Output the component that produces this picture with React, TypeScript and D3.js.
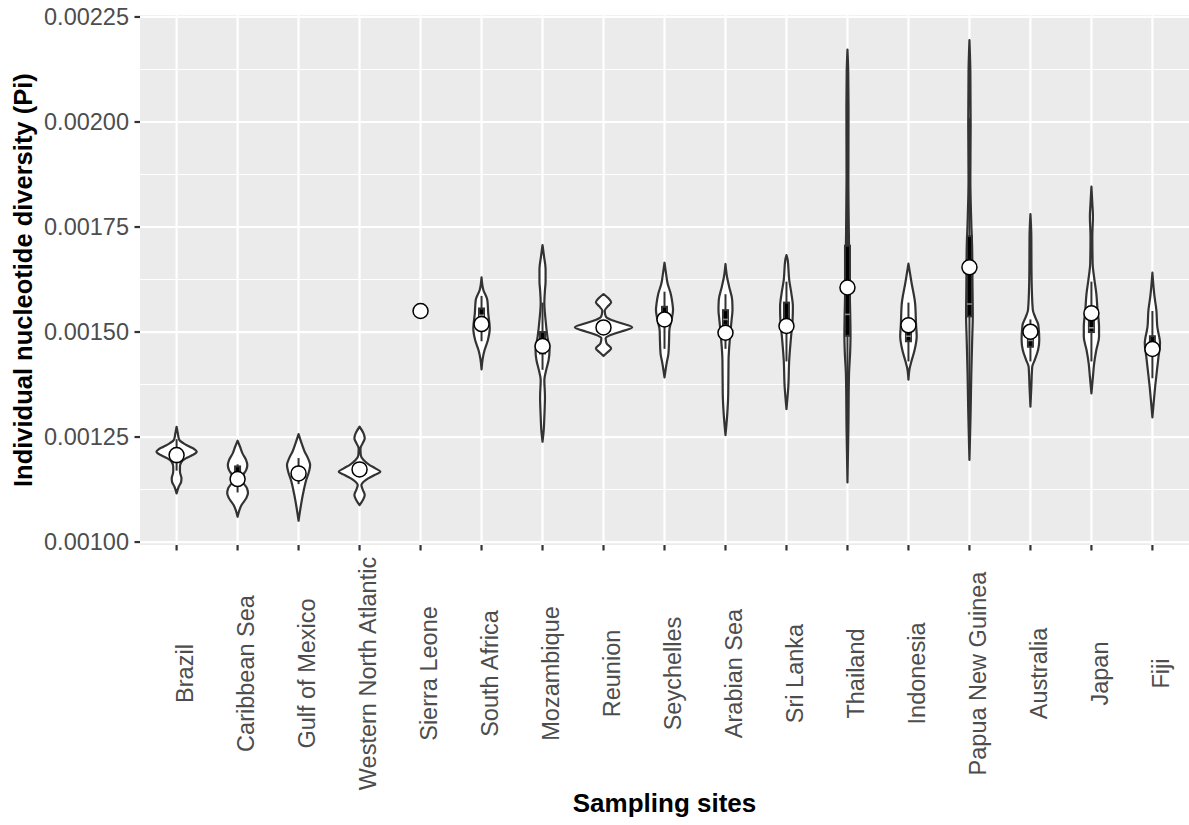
import React from "react";
import * as d3 from "d3";

// Sampling sites in plotting order
const sites = [
  "Brazil", "Caribbean Sea", "Gulf of Mexico", "Western North Atlantic", "Sierra Leone",
  "South Africa", "Mozambique", "Reunion", "Seychelles", "Arabian Sea", "Sri Lanka",
  "Thailand", "Indonesia", "Papua New Guinea", "Australia", "Japan", "Fiji",
];

// Mean individual nucleotide diversity per site (white points)
const meanPi = [
  0.001207, 0.00115, 0.0011635, 0.001173, 0.00155, 0.001519, 0.0014667, 0.001511,
  0.00153, 0.0014983, 0.0015143, 0.001606, 0.001516, 0.001654, 0.0015008, 0.0015445, 0.0014595,
];

// Inner boxplot statistics per site (NaN = single sample, no box)
const boxLower = [0.00119, 0.00114, 0.00115, 0.001165, NaN, 0.001529, 0.001449, 0.001505, 0.001533, 0.001517, 0.0015, 0.001491, 0.001478, 0.0015371, 0.001465, 0.0015, 0.00145];
const boxMedian = [0.001212, 0.00115, 0.00116, 0.00117, NaN, 0.00154, 0.00148, 0.00151, 0.001545, 0.00153, 0.00153, 0.001542, 0.00149, 0.0015667, 0.00148, 0.00151, 0.00146];
const boxUpper = [0.001222, 0.00118, 0.001175, 0.00118, NaN, 0.001556, 0.0015, 0.001515, 0.00156, 0.001552, 0.00157, 0.0017055, 0.00152, 0.0017281, 0.00149, 0.00155, 0.00149];
const whiskerLow = [0.00117, 0.001118, 0.001138, 0.00116, NaN, 0.001478, 0.00141, 0.0015, 0.00146, 0.00146, 0.00143, 0.00122, 0.00143, 0.00125, 0.00143, 0.00143, 0.00139];
const whiskerHigh = [0.001245, 0.001185, 0.0012, 0.001185, NaN, 0.001586, 0.00157, 0.00152, 0.001596, 0.00159, 0.00162, 0.00203, 0.00157, 0.00201, 0.00153, 0.00162, 0.00155];

// Violin outlines: [Pi value, relative density] from top to bottom
const violinBrazil = [[0.0012745, 0], [0.0012588, 0.04], [0.0012429, 0.09], [0.001235, 0.23], [0.001227, 0.43], [0.0012207, 0.59], [0.001215, 0.66], [0.0012071, 0.52], [0.0011993, 0.3], [0.001191, 0.16], [0.001179, 0.11], [0.0011674, 0.11], [0.0011517, 0.16], [0.0011436, 0.15], [0.0011317, 0.07], [0.001116, 0]];
const violinCaribbean = [[0.0012412, 0], [0.0012269, 0.08], [0.0012111, 0.16], [0.0011952, 0.28], [0.0011833, 0.32], [0.0011714, 0.28], [0.0011595, 0.18], [0.00115, 0.15], [0.0011397, 0.2], [0.0011278, 0.31], [0.001116, 0.34], [0.001104, 0.28], [0.001088, 0.13], [0.0010762, 0.06], [0.0010602, 0]];
const violinGulf = [[0.0012571, 0], [0.001235, 0.1], [0.001215, 0.2], [0.0011993, 0.31], [0.0011833, 0.38], [0.0011674, 0.34], [0.0011476, 0.25], [0.001116, 0.15], [0.001084, 0.07], [0.0010507, 0]];
const violinWNA = [[0.0012745, 0], [0.0012588, 0.13], [0.001247, 0.17], [0.001235, 0.1], [0.001223, 0.03], [0.0012071, 0.04], [0.0011952, 0.13], [0.0011833, 0.33], [0.0011754, 0.52], [0.0011674, 0.68], [0.0011595, 0.49], [0.0011476, 0.2], [0.0011357, 0.06], [0.0011238, 0.11], [0.0011119, 0.17], [0.0011, 0.11], [0.001088, 0]];
const violinSierraLeone: number[][] = [];
const violinSouthAfrica = [[0.0016302, 0], [0.0016, 0.06], [0.0015762, 0.19], [0.0015445, 0.22], [0.0015088, 0.27], [0.001481, 0.21], [0.0014571, 0.1], [0.0014374, 0.04], [0.0014112, 0]];
const violinMozambique = [[0.001707, 0], [0.00168, 0.05], [0.00165, 0.1], [0.00162, 0.1], [0.0016, 0.08], [0.0015683, 0.06], [0.0015286, 0.1], [0.0014888, 0.16], [0.0014571, 0.23], [0.0014333, 0.2], [0.0014095, 0.12], [0.0013857, 0.06], [0.0013459, 0.08], [0.0012983, 0.06], [0.0012667, 0.04], [0.0012388, 0]];
const violinReunion = [[0.0015905, 0], [0.0015802, 0.16], [0.0015707, 0.25], [0.0015603, 0.13], [0.0015507, 0.04], [0.0015364, 0.08], [0.0015286, 0.26], [0.0015207, 0.59], [0.0015112, 0.94], [0.0015008, 0.56], [0.0014929, 0.23], [0.001485, 0.07], [0.0014731, 0.1], [0.0014612, 0.25], [0.0014517, 0.13], [0.0014429, 0]];
const violinSeychelles = [[0.001665, 0], [0.0016398, 0.05], [0.001616, 0.1], [0.0015921, 0.2], [0.0015683, 0.26], [0.0015524, 0.28], [0.0015286, 0.23], [0.0015048, 0.16], [0.001481, 0.15], [0.0014493, 0.13], [0.0014255, 0.07], [0.0013921, 0]];
const violinArabianSea = [[0.001662, 0], [0.0016317, 0.05], [0.0016079, 0.12], [0.0015762, 0.22], [0.0015524, 0.23], [0.0015286, 0.2], [0.0014888, 0.15], [0.0014333, 0.1], [0.001354, 0.09], [0.0013064, 0.06], [0.0012548, 0]];
const violinSriLanka = [[0.001683, 0], [0.0016714, 0.04], [0.0016238, 0.09], [0.0015921, 0.16], [0.0015603, 0.21], [0.0015286, 0.2], [0.0014888, 0.15], [0.0014333, 0.09], [0.0013698, 0.06], [0.0013167, 0]];
const violinThailand = [[0.0021724, 0], [0.002119, 0.025], [0.0020338, 0.035], [0.0018643, 0.03], [0.0017112, 0.05], [0.0016095, 0.07], [0.0014905, 0.1], [0.0014564, 0.09], [0.0013969, 0.05], [0.0012695, 0.03], [0.0011421, 0]];
const violinIndonesia = [[0.0016629, 0], [0.0016179, 0.1], [0.0015669, 0.22], [0.001516, 0.25], [0.0014905, 0.27], [0.0014564, 0.2], [0.001431, 0.1], [0.0014138, 0.04], [0.0013867, 0]];
const violinPNG = [[0.0021952, 0], [0.0021188, 0.03], [0.0019914, 0.04], [0.001864, 0.03], [0.0017621, 0.06], [0.0016943, 0.09], [0.0016093, 0.1], [0.0015412, 0.11], [0.0014819, 0.09], [0.0013969, 0.06], [0.0013119, 0.04], [0.0011955, 0]];
const violinAustralia = [[0.001781, 0], [0.0017269, 0.03], [0.0016476, 0.035], [0.0015921, 0.05], [0.0015524, 0.08], [0.0015364, 0.15], [0.0015167, 0.26], [0.001481, 0.29], [0.0014571, 0.25], [0.0014333, 0.14], [0.0014174, 0.06], [0.0013698, 0.03], [0.0013222, 0]];
const violinJapan = [[0.001846, 0], [0.0018064, 0.03], [0.0017745, 0.05], [0.0017269, 0.03], [0.0016636, 0.04], [0.0016238, 0.1], [0.0015921, 0.16], [0.0015524, 0.2], [0.0015126, 0.25], [0.0014888, 0.25], [0.0014571, 0.16], [0.0014255, 0.09], [0.0013936, 0.05], [0.001354, 0]];
const violinFiji = [[0.0016412, 0], [0.0015841, 0.07], [0.0015524, 0.13], [0.0015126, 0.16], [0.0014731, 0.25], [0.0014412, 0.2], [0.0014095, 0.15], [0.0013698, 0.09], [0.0013302, 0.04], [0.0012969, 0]];

const violins = [
  violinBrazil, violinCaribbean, violinGulf, violinWNA, violinSierraLeone, violinSouthAfrica,
  violinMozambique, violinReunion, violinSeychelles, violinArabianSea, violinSriLanka,
  violinThailand, violinIndonesia, violinPNG, violinAustralia, violinJapan, violinFiji,
];

const yMajorTicks = [0.001, 0.00125, 0.0015, 0.00175, 0.002, 0.00225];
const yMinorTicks = [0.001125, 0.001375, 0.001625, 0.001875, 0.002125];

const W = 1189;
const H = 825;
const PANEL_LEFT = 140;
const PANEL_RIGHT = 1189;
const PANEL_TOP = 15.3;
const PANEL_BOTTOM = 545;
const Y_LIMITS = [0.000993, 0.002254];

const FONT = "'Liberation Sans', Arial, Helvetica, sans-serif";
const INK = "#333333";
const AXIS_TEXT = 23.5;

export default function App() {
  const x = d3.scalePoint<string>().domain(sites).range([PANEL_LEFT, PANEL_RIGHT]).padding(0.6);
  const y = d3.scaleLinear().domain(Y_LIMITS).range([PANEL_BOTTOM, PANEL_TOP]);
  const halfWidth = d3.scaleLinear().domain([0, 1]).range([0, x.step() / 2]);
  const fmt = d3.format(".5f");

  const panelMidY = (PANEL_TOP + PANEL_BOTTOM) / 2;
  const panelMidX = (PANEL_LEFT + PANEL_RIGHT) / 2;

  return (
    <svg
      width={W}
      height={H}
      viewBox={`0 0 ${W} ${H}`}
      style={{ position: "absolute", left: 0, top: 0, background: "#ffffff" }}
      fontFamily={FONT}
    >
      <rect x={0} y={0} width={W} height={H} fill="#ffffff" />
      {/* panel background */}
      <rect
        x={PANEL_LEFT}
        y={PANEL_TOP}
        width={PANEL_RIGHT - PANEL_LEFT}
        height={PANEL_BOTTOM - PANEL_TOP}
        fill="#EBEBEB"
      />
      {/* grid */}
      {yMinorTicks.map((t) => (
        <line key={"mn" + t} x1={PANEL_LEFT} x2={PANEL_RIGHT} y1={y(t)} y2={y(t)} stroke="#ffffff" strokeWidth={1.1} />
      ))}
      {yMajorTicks.map((t) => (
        <line key={"mj" + t} x1={PANEL_LEFT} x2={PANEL_RIGHT} y1={y(t)} y2={y(t)} stroke="#ffffff" strokeWidth={2.2} />
      ))}
      {sites.map((s) => (
        <line key={"vg" + s} x1={x(s)} x2={x(s)} y1={PANEL_TOP} y2={PANEL_BOTTOM} stroke="#ffffff" strokeWidth={2.2} />
      ))}

      {/* violins */}
      {sites.map((s, i) => {
        const cx = x(s) as number;
        const prof = violins[i];
        if (!prof.length) return null;
        const area = d3
          .area<number[]>()
          .curve(d3.curveMonotoneY)
          .y((d) => y(d[0]))
          .x0((d) => cx - halfWidth(d[1]))
          .x1((d) => cx + halfWidth(d[1]));
        return (
          <path
            key={"v" + s}
            d={area(prof) || ""}
            fill="#ffffff"
            stroke={INK}
            strokeWidth={2.2}
            strokeLinejoin="round"
          />
        );
      })}

      {/* inner boxplots */}
      {sites.map((s, i) => {
        if (isNaN(boxLower[i])) return null;
        const cx = x(s) as number;
        const bw = 5;
        return (
          <g key={"b" + s}>
            <line x1={cx} x2={cx} y1={y(whiskerHigh[i])} y2={y(boxUpper[i])} stroke={INK} strokeWidth={2} />
            <line x1={cx} x2={cx} y1={y(boxLower[i])} y2={y(whiskerLow[i])} stroke={INK} strokeWidth={2} />
            <rect
              x={cx - bw / 2}
              y={y(boxUpper[i])}
              width={bw}
              height={y(boxLower[i]) - y(boxUpper[i])}
              fill="#000000"
              stroke={INK}
              strokeWidth={2}
            />
            <line x1={cx - bw / 2} x2={cx + bw / 2} y1={y(boxMedian[i])} y2={y(boxMedian[i])} stroke="#8c8c8c" strokeWidth={1.6} />
          </g>
        );
      })}

      {/* site means */}
      {sites.map((s, i) => (
        <circle key={"m" + s} cx={x(s)} cy={y(meanPi[i])} r={7.5} fill="#ffffff" stroke="#000000" strokeWidth={1.5} />
      ))}

      {/* y axis */}
      {yMajorTicks.map((t) => (
        <g key={"yt" + t}>
          <line x1={PANEL_LEFT - 5.5} x2={PANEL_LEFT} y1={y(t)} y2={y(t)} stroke={INK} strokeWidth={2.2} />
          <text
            x={PANEL_LEFT - 11}
            y={y(t)}
            dy="0.35em"
            textAnchor="end"
            fontSize={AXIS_TEXT}
            fill="#4D4D4D"
          >
            {fmt(t)}
          </text>
        </g>
      ))}

      {/* x axis */}
      {sites.map((s) => {
        const cx = x(s) as number;
        return (
          <g key={"xt" + s}>
            <line x1={cx} x2={cx} y1={PANEL_BOTTOM} y2={PANEL_BOTTOM + 5.5} stroke={INK} strokeWidth={2.2} />
            <text
              transform={`translate(${cx + 16.8},${673.5}) rotate(-90)`}
              textAnchor="middle"
              fontSize={AXIS_TEXT}
              fill="#4D4D4D"
            >
              {s}
            </text>
          </g>
        );
      })}

      {/* axis titles */}
      <text
        transform={`translate(${32},${panelMidY}) rotate(-90)`}
        textAnchor="middle"
        fontSize={25.5}
        fontWeight="bold"
        fill="#000000"
      >
        Individual nucleotide diversity (Pi)
      </text>
      <text x={panelMidX} y={812} textAnchor="middle" fontSize={26} fontWeight="bold" fill="#000000">
        Sampling sites
      </text>
    </svg>
  );
}
